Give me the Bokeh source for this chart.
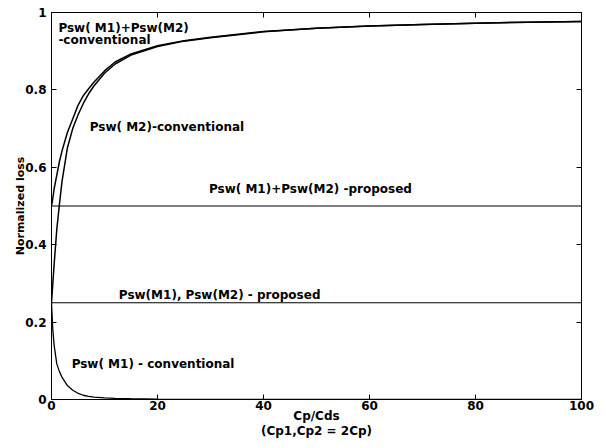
from bokeh.plotting import figure
from bokeh.models import Range1d, LinearAxis, FixedTicker, NumeralTickFormatter, Label, CustomJSTickFormatter
from bokeh.embed import file_html
from bokeh.resources import INLINE

# ---- data ----
x_conv = [0, 0.25, 0.5, 1, 1.5, 2, 3, 4, 5, 6, 7, 8, 10, 12, 15, 20, 25, 30, 40, 50, 60, 70, 80, 90, 100]
m1_conv = [0.25, 0.18, 0.14, 0.092, 0.072, 0.057, 0.036, 0.024, 0.016, 0.011, 0.008, 0.006, 0.004,
           0.003, 0.002, 0.001, 0.0005, 0, 0, 0, 0, 0, 0, 0, 0]
m2_conv = [0.25, 0.30, 0.35, 0.44, 0.505, 0.565, 0.65, 0.70, 0.735, 0.765, 0.79, 0.81, 0.843,
           0.867, 0.89, 0.912, 0.926, 0.935, 0.95, 0.959, 0.965, 0.969, 0.972, 0.975, 0.977]
sum_conv = [0.5, 0.52, 0.545, 0.58, 0.615, 0.643, 0.69, 0.725, 0.76, 0.785, 0.803, 0.82, 0.849,
            0.872, 0.893, 0.914, 0.927, 0.936, 0.951, 0.959, 0.965, 0.969, 0.972, 0.975, 0.977]
x_prop = [0, 100]
m_prop = [0.25, 0.25]
sum_prop = [0.5, 0.5]

x_ticks = [0, 20, 40, 60, 80, 100]
y_ticks = [0, 0.2, 0.4, 0.6, 0.8, 1]

FONT = "DejaVu Sans"

p = figure(frame_width=530, frame_height=387, output_backend="svg", toolbar_location=None,
           x_range=Range1d(0, 100), y_range=Range1d(0, 1),
           min_border_left=51, min_border_right=24, min_border_top=12, min_border_bottom=48)
p.grid.visible = False
p.outline_line_color = "black"
p.background_fill_color = "white"

for ax in (p.xaxis[0], p.yaxis[0]):
    ax.major_tick_in = 5
    ax.major_tick_out = 0
    ax.minor_tick_line_color = None
    ax.axis_line_color = "black"
    ax.major_tick_line_color = "black"
    ax.major_label_text_font = FONT
    ax.major_label_text_font_style = "bold"
    ax.major_label_text_font_size = "12px"
    ax.major_label_text_color = "black"
    ax.axis_label_text_font = FONT
    ax.axis_label_text_font_style = "bold"
    ax.axis_label_text_color = "black"

p.xaxis.ticker = FixedTicker(ticks=x_ticks)
p.yaxis.ticker = FixedTicker(ticks=y_ticks)
p.yaxis.formatter = NumeralTickFormatter(format="0.[0]")
p.xaxis.axis_label = "Cp/Cds\n(Cp1,Cp2 = 2Cp)"
p.xaxis.axis_label_text_font_size = "12px"
p.xaxis.axis_label_text_line_height = 1.1
p.xaxis.major_label_standoff = 1
p.xaxis.axis_label_standoff = -4
p.yaxis.axis_label = "Normalized loss"
p.yaxis.axis_label_text_font_size = "11px"
p.yaxis.major_label_standoff = 5
p.yaxis.axis_label_standoff = -5

blank = CustomJSTickFormatter(code="return ''")
top = LinearAxis(ticker=FixedTicker(ticks=x_ticks), formatter=blank, major_tick_in=5,
                 major_tick_out=0, minor_tick_line_color=None, major_label_standoff=0)
right = LinearAxis(ticker=FixedTicker(ticks=y_ticks), formatter=blank, major_tick_in=5,
                   major_tick_out=0, minor_tick_line_color=None, major_label_standoff=0)
p.add_layout(top, "above")
p.add_layout(right, "right")

p.line(x_conv, sum_conv, line_color="black", line_width=1.5)
p.line(x_conv, m2_conv, line_color="black", line_width=1.5)
p.line(x_conv, m1_conv, line_color="black", line_width=1.3)
p.line(x_prop, sum_prop, line_color="black", line_width=1.1)
p.line(x_prop, m_prop, line_color="black", line_width=1.1)

labels = [
    ("Psw( M1)+Psw(M2)", 1.3, 0.960),
    ("-conventional", 1.3, 0.929),
    ("Psw( M2)-conventional", 7.2, 0.704),
    ("Psw( M1)+Psw(M2) -proposed", 29.7, 0.543),
    ("Psw(M1), Psw(M2) - proposed", 12.7, 0.269),
    ("Psw( M1) - conventional", 3.8, 0.0906),
]
for t, lx, ly in labels:
    p.add_layout(Label(x=lx, y=ly, text=t, text_font=FONT, text_font_style="bold",
                       text_font_size="12px", text_color="black", text_baseline="middle"))

open("out.html", "w").write(file_html(p, INLINE))
